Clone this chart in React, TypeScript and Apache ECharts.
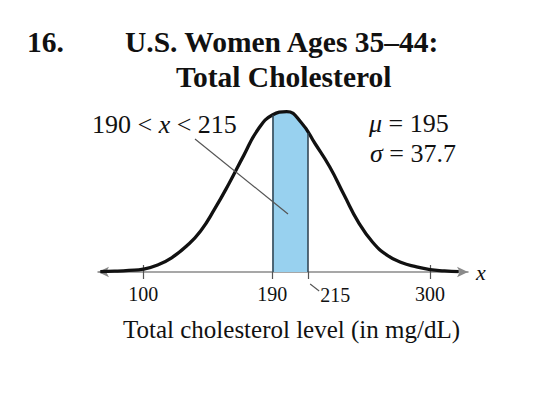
import React, { useEffect, useRef } from "react";
import * as echarts from "echarts";

// Curve heights (percent of peak height) at cholesterol levels (mg/dL)
const CURVE_X = [70, 80, 90, 100, 110, 120, 130, 140, 150, 160, 170, 180, 190, 200, 210, 220, 230, 240, 250, 260, 270, 280, 290, 300, 310, 320];
const CURVE_Y = [0.2, 0.5, 1.0, 1.8, 4.3, 9, 16, 25.5, 39.5, 55.3, 72.3, 88.5, 97.5, 99.6, 93, 79.5, 65.4, 48, 31, 18.5, 10.5, 5.9, 3.3, 1.5, 0.7, 0.2];

// Shaded region 190 < x < 215, heights
const SHADE_X = [190, 195, 200, 205, 210, 215];
const SHADE_Y = [97.5, 99.4, 99.6, 97.6, 93, 86.3];

const TICK_VALUES = [100, 190, 215, 300];
const LABEL_VALUES = [100, 190, 300];
const UPPER_TICKS = [100, 300];
const OFFSET_LABEL = "215";

const TITLE_NUMBER = "16.";
const TITLE_LINE1 = "U.S. Women Ages 35–44:";
const TITLE_LINE2 = "Total Cholesterol";
const AXIS_NAME = "Total cholesterol level (in mg/dL)";
const MU = "195";
const SIGMA = "37.7";

const SERIF = "Liberation Serif, Times New Roman, serif";

function measure(font: string, text: string): number {
  const c = document.createElement("canvas");
  const ctx = c.getContext("2d");
  if (!ctx) return text.length * 10;
  ctx.font = font;
  return ctx.measureText(text).width;
}

function runs(x0: number, y: number, parts: { t: string; italic?: boolean }[], size: number) {
  const out: any[] = [];
  let x = x0;
  for (const p of parts) {
    const font = `${p.italic ? "italic " : ""}${size}px ${SERIF}`;
    out.push({
      type: "text",
      x,
      y,
      style: { text: p.t, font, fill: "#111", verticalAlign: "middle", align: "left" },
    });
    x += measure(font, p.t);
  }
  return out;
}

export default function App() {
  const ref = useRef<HTMLDivElement>(null);

  useEffect(() => {
    if (!ref.current) return;
    const chart = echarts.init(ref.current, null, { renderer: "svg" });

    const curve = CURVE_X.map((x, i) => [x, CURVE_Y[i]]);
    const shaded = SHADE_X.map((x, i) => [x, SHADE_Y[i]]);
    const lowX = SHADE_X[0];
    const highX = SHADE_X[SHADE_X.length - 1];
    const lowY = SHADE_Y[0];
    const highY = SHADE_Y[SHADE_Y.length - 1];

    const xMin = 68.4;
    const xMax = 326.5;

    const option: any = {
      animation: false,
      backgroundColor: "#ffffff",
      grid: { left: 98, right: 88, top: 111, bottom: 124, containLabel: false },
      xAxis: [
        {
          type: "value",
          min: xMin,
          max: xMax,
          position: "bottom",
          splitLine: { show: false },
          axisLine: {
            show: true,
            symbol: ["arrow", "arrow"],
            symbolSize: [8, 11],
            lineStyle: { color: "#8a8a8a", width: 1.5 },
          },
          axisTick: {
            show: true,
            customValues: TICK_VALUES,
            length: 7,
            lineStyle: { color: "#555", width: 1.2 },
          },
          axisLabel: {
            show: true,
            customValues: LABEL_VALUES,
            margin: 12,
            fontSize: 20,
            fontFamily: SERIF,
            color: "#111",
          },
          name: AXIS_NAME,
          nameLocation: "middle",
          nameGap: 45,
          nameTextStyle: {
            fontSize: 25,
            fontFamily: SERIF,
            color: "#111",
            padding: [0, 0, 0, 17],
          },
        },
        {
          type: "value",
          min: xMin,
          max: xMax,
          position: "bottom",
          splitLine: { show: false },
          axisLine: { show: false },
          axisTick: {
            show: true,
            inside: true,
            customValues: UPPER_TICKS,
            length: 7,
            lineStyle: { color: "#555", width: 1.2 },
          },
          axisLabel: { show: false },
        },
      ],
      yAxis: { type: "value", min: 0, max: 100, show: false },
      series: [
        {
          type: "line",
          data: shaded,
          smooth: 0.5,
          showSymbol: false,
          symbol: "none",
          z: 1,
          lineStyle: { width: 0, opacity: 0 },
          areaStyle: { color: "#98d1ef", opacity: 1 },
          markLine: {
            silent: true,
            symbol: ["none", "none"],
            label: { show: false },
            lineStyle: { color: "#2e3f4c", width: 1.5, type: "solid" },
            data: [
              [{ coord: [lowX, 0] }, { coord: [lowX, lowY] }],
              [{ coord: [highX, 0] }, { coord: [highX, highY] }],
            ],
          },
        },
        {
          type: "line",
          data: curve,
          smooth: 0.5,
          showSymbol: false,
          symbol: "none",
          z: 3,
          lineStyle: { color: "#111", width: 3.3 },
        },
      ],
    };
    chart.setOption(option);

    const p = chart.convertToPixel({ xAxisIndex: 0, yAxisIndex: 0 }, [highX, 0]) as number[];
    const axisEnd = chart.convertToPixel({ xAxisIndex: 0, yAxisIndex: 0 }, [xMax, 0]) as number[];

    const titleFont = `bold 29.5px ${SERIF}`;
    const graphics: any[] = [
      { type: "text", x: 27, y: 42, style: { text: TITLE_NUMBER, font: titleFont, fill: "#111", verticalAlign: "middle" } },
      { type: "text", x: 125, y: 42, style: { text: TITLE_LINE1, font: titleFont, fill: "#111", verticalAlign: "middle" } },
      { type: "text", x: 176, y: 77, style: { text: TITLE_LINE2, font: titleFont, fill: "#111", verticalAlign: "middle" } },
      ...runs(92, 124, [{ t: "190 < " }, { t: "x", italic: true }, { t: " < 215" }], 26),
      ...runs(369, 123, [{ t: "μ", italic: true }, { t: " = " + MU }], 26),
      ...runs(370, 153, [{ t: "σ", italic: true }, { t: " = " + SIGMA }], 26),
      {
        type: "line",
        shape: { x1: 195, y1: 139, x2: 288, y2: 214 },
        style: { stroke: "#555", lineWidth: 1.2 },
        z: 10,
      },
      {
        type: "line",
        shape: { x1: p[0] + 2, y1: p[1] + 12, x2: p[0] + 11, y2: p[1] + 19 },
        style: { stroke: "#555", lineWidth: 1.1 },
      },
      {
        type: "text",
        x: p[0] + 12,
        y: p[1] + 13,
        style: { text: OFFSET_LABEL, font: `20px ${SERIF}`, fill: "#111", verticalAlign: "top", align: "left" },
      },
      {
        type: "text",
        x: axisEnd[0] + 8,
        y: axisEnd[1],
        style: { text: "x", font: `italic 22px ${SERIF}`, fill: "#111", verticalAlign: "middle", align: "left" },
      },
    ];

    chart.setOption({ graphic: graphics });

    return () => chart.dispose();
  }, []);

  return (
    <div
      ref={ref}
      style={{ position: "fixed", left: 0, top: 0, width: 556, height: 396, background: "#fff" }}
    />
  );
}
